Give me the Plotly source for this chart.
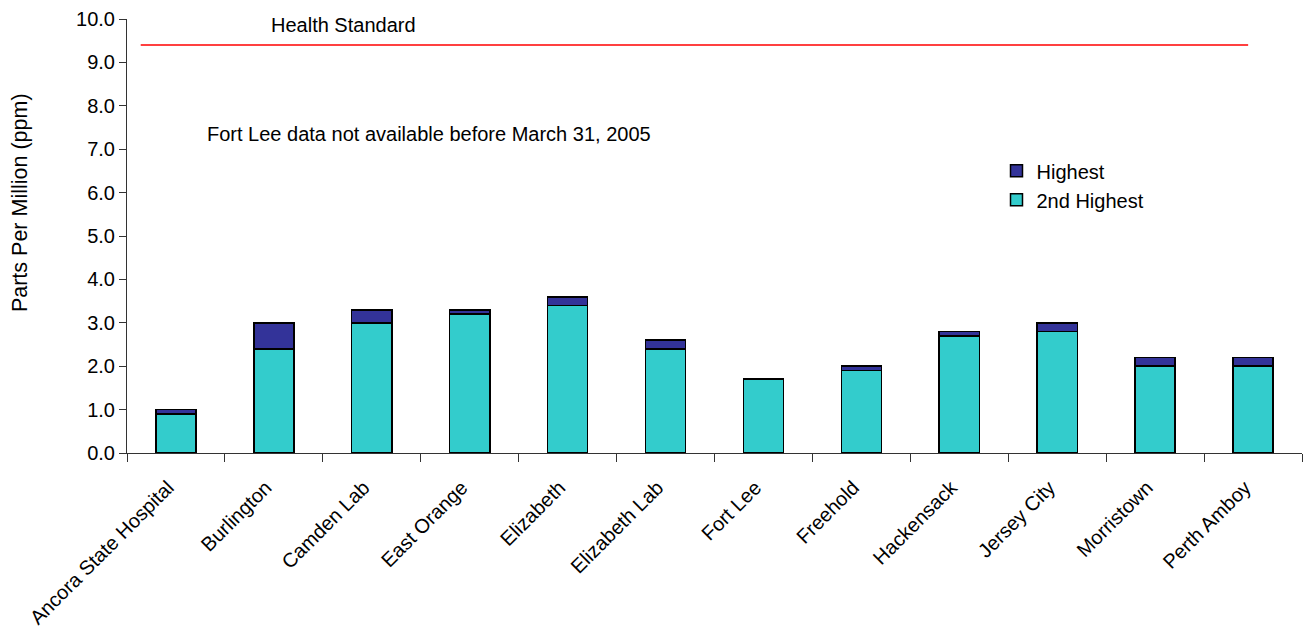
import numpy as np
import plotly.graph_objects as go

sites = ["Ancora State Hospital", "Burlington", "Camden Lab", "East Orange", "Elizabeth",
         "Elizabeth Lab", "Fort Lee", "Freehold", "Hackensack", "Jersey City",
         "Morristown", "Perth Amboy"]
second_highest = [0.9, 2.4, 3.0, 3.2, 3.4, 2.4, 1.7, 1.9, 2.7, 2.8, 2.0, 2.0]
highest = [1.0, 3.0, 3.3, 3.3, 3.6, 2.6, 1.7, 2.0, 2.8, 3.0, 2.2, 2.2]
health_standard = 9.4
y_ticks = [0, 1, 2, 3, 4, 5, 6, 7, 8, 9, 10]

FONT = "Liberation Sans, Arial, sans-serif"
FS = 20

diff = (np.array(highest) - np.array(second_highest)).round(2)

fig = go.Figure()
fig.add_trace(go.Bar(x=sites, y=second_highest, name="2nd Highest",
                     marker=dict(color="#33CCCC", line=dict(color="black", width=1.5)),
                     width=0.41))
fig.add_trace(go.Bar(x=sites, y=diff, name="Highest",
                     marker=dict(color="#333399", line=dict(color="black", width=1.5)),
                     width=0.41))

fig.add_shape(type="line", xref="x", yref="y", x0=-0.36, x1=10.95,
              y0=health_standard, y1=health_standard,
              line=dict(color="#FF0000", width=1.5))

fig.add_annotation(text="Health Standard", xref="paper", yref="paper", x=0.184, y=0.986,
                   xanchor="center", yanchor="middle", showarrow=False,
                   font=dict(size=FS, color="black", family=FONT))
fig.add_annotation(text="Fort Lee data not available before March 31, 2005", xref="paper",
                   yref="paper", x=0.257, y=0.735, xanchor="center", yanchor="middle",
                   showarrow=False, font=dict(size=FS, color="black", family=FONT))
fig.add_annotation(text="Parts Per Million (ppm)", xref="paper", yref="paper", x=-0.091,
                   y=0.576, xanchor="center", yanchor="middle", textangle=-90,
                   showarrow=False, font=dict(size=21.5, color="black", family=FONT))

fig.update_layout(
    width=1305, height=628,
    margin=dict(l=127, r=3, t=19, b=175),
    barmode="stack",
    plot_bgcolor="white", paper_bgcolor="white",
    font=dict(family=FONT, size=FS, color="black"),
    showlegend=True,
    legend=dict(x=0.740, y=0.695, xanchor="left", yanchor="top",
                traceorder="reversed", bgcolor="rgba(0,0,0,0)",
                font=dict(size=FS, family=FONT), itemclick=False),
    xaxis=dict(type="category", showline=True, linecolor="#333", linewidth=1,
               ticks="outside", tickson="boundaries", ticklen=8, tickcolor="#333",
               tickangle=-45, showgrid=False, range=[-0.5, 11.5], automargin=False,
               ticklabelstandoff=14, ticklabelshift=-8),
    yaxis=dict(range=[0, 10], tickvals=y_ticks, ticktext=[f"{v:.1f}" for v in y_ticks],
               showline=True, linecolor="#333", linewidth=1, ticks="outside", ticklen=7,
               tickcolor="#333", showgrid=False, zeroline=False, automargin=False),
)

fig.write_html("out.html")
